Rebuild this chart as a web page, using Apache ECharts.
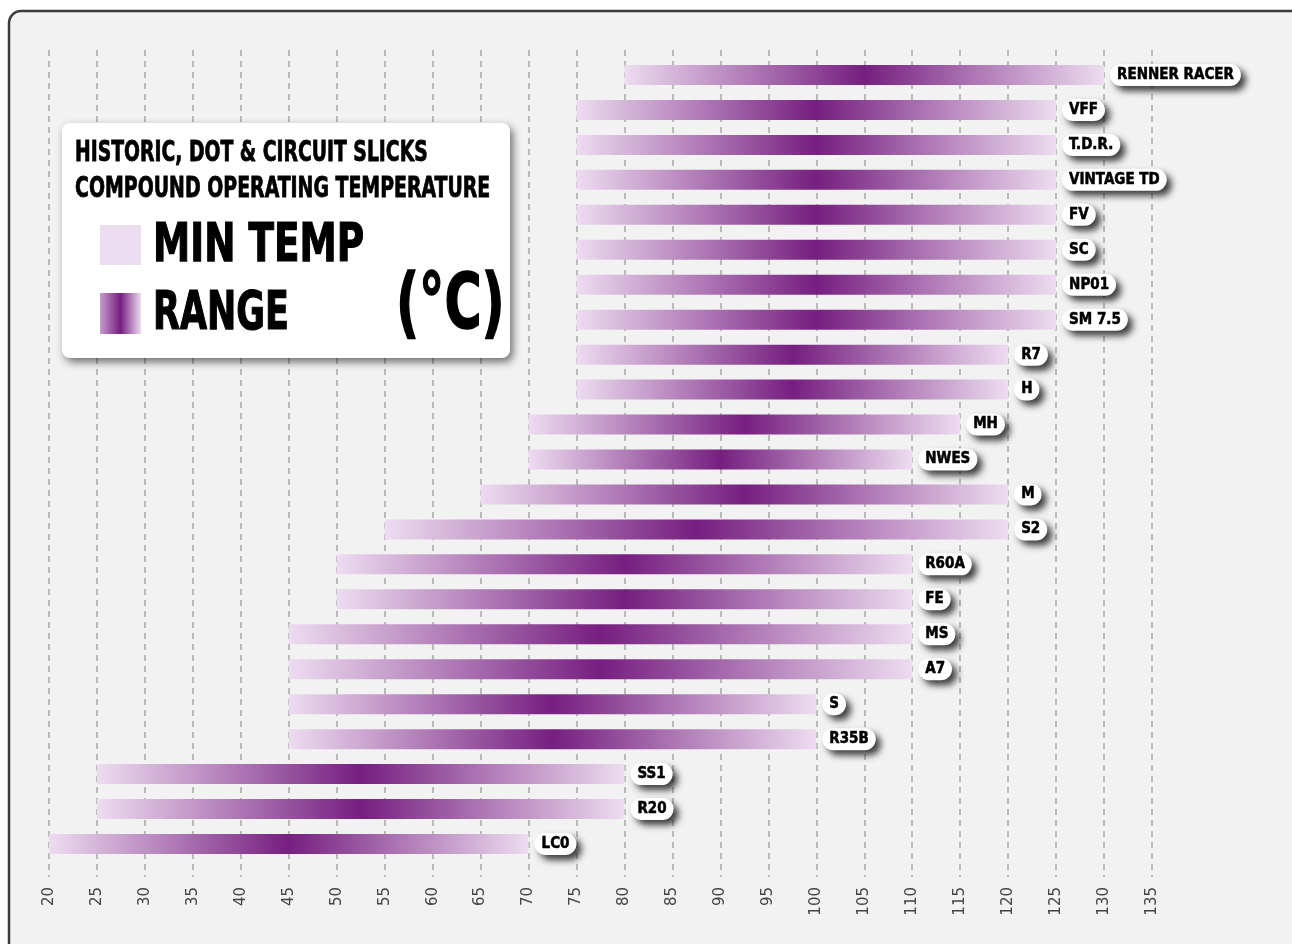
<!DOCTYPE html>
<html>
<head>
<meta charset="utf-8">
<script src="https://cdn.jsdelivr.net/npm/echarts@6/dist/echarts.min.js"></script>
<style>
html,body{margin:0;padding:0;background:#ffffff;}
#main{width:1292px;height:944px;}
</style>
</head>
<body>
<div id="main"></div>
<script>
var categories = ['RENNER RACER','VFF','T.D.R.','VINTAGE TD','FV','SC','NP01','SM 7.5','R7','H','MH','NWES','M','S2','R60A','FE','MS','A7','S','R35B','SS1','R20','LC0'];
var minTemp = [80,75,75,75,75,75,75,75,75,75,70,70,65,55,50,50,45,45,45,45,25,25,20];
var maxTemp = [130,125,125,125,125,125,125,125,120,120,115,110,120,120,110,110,110,110,100,100,80,80,70];
var axisMin = 20, axisMax = 135, axisStep = 5;

var COND = "'DejaVu Sans Condensed','Liberation Sans Narrow',sans-serif";
var rangeData = maxTemp.map(function(v,i){ return v - minTemp[i]; });

var chart = echarts.init(document.getElementById('main'));
function grad(){
  return new echarts.graphic.LinearGradient(0,0,1,0,[
    {offset:0,color:'#eddcf0'},
    {offset:0.5,color:'#761f80'},
    {offset:1,color:'#eddcf0'}
  ]);
}
var Z = 100;
function heavy(txt, font, w){
  return {text:txt,fill:'#000',font:font,stroke:'#000',lineWidth:w};
}
var option = {
  animation:false,
  backgroundColor:'#ffffff',
  grid:[
    {left:49,right:140,top:50,bottom:67},
    {left:49,right:140,top:57.5,bottom:82.5}
  ],
  xAxis:[
    {gridIndex:0,type:'value',min:axisMin,max:axisMax,interval:axisStep,
      axisLine:{show:false},axisTick:{show:false},
      axisLabel:{rotate:90,color:'#444',fontSize:15,margin:10,fontFamily:'DejaVu Sans'},
      splitLine:{show:true,lineStyle:{color:'#a8a8a8',width:1.5,type:[6,5]}}},
    {gridIndex:1,type:'value',min:axisMin,max:axisMax,interval:axisStep,show:false,
      splitLine:{show:false}}
  ],
  yAxis:[
    {gridIndex:0,type:'value',min:0,max:1,show:false,splitLine:{show:false}},
    {gridIndex:1,type:'category',inverse:true,data:categories,show:false}
  ],
  graphic:[
    {type:'rect',z:-10,silent:true,shape:{x:9,y:11,width:1400,height:1000,r:12},
      style:{fill:'#f2f2f2',stroke:'#3a3a3a',lineWidth:2.5}},
    {type:'rect',z:Z,silent:true,shape:{x:62,y:123,width:448,height:235,r:8},
      style:{fill:'#ffffff',shadowBlur:8,shadowOffsetX:3,shadowOffsetY:4,shadowColor:'rgba(0,0,0,0.55)'}},
    {type:'text',z:Z+1,x:75,y:139,scaleX:0.72,style:heavy('HISTORIC, DOT & CIRCUIT SLICKS','bold 29px '+COND,0.8)},
    {type:'text',z:Z+1,x:75,y:175,scaleX:0.725,style:heavy('COMPOUND OPERATING TEMPERATURE','bold 29px '+COND,0.8)},
    {type:'rect',z:Z+1,shape:{x:100,y:225,width:41,height:40},style:{fill:'#ecdcef'}},
    {type:'rect',z:Z+1,shape:{x:100,y:293,width:41,height:41},style:{fill:new echarts.graphic.LinearGradient(0,0,1,0,[
        {offset:0,color:'#c79bcd'},{offset:0.5,color:'#761f80'},{offset:1,color:'#eddcf0'}])}},
    {type:'text',z:Z+1,x:153,y:220,scaleX:0.77,style:heavy('MIN TEMP','bold 54px '+COND,1.2)},
    {type:'text',z:Z+1,x:153,y:288,scaleX:0.72,style:heavy('RANGE','bold 54px '+COND,1.2)},
    {type:'text',z:Z+1,x:396,y:270,scaleX:0.74,style:heavy('(°C)','bold 76px '+COND,1.5)}
  ],
  series:[
    {type:'bar',name:'base',xAxisIndex:1,yAxisIndex:1,stack:'t',silent:true,
      barWidth:20,itemStyle:{color:'rgba(0,0,0,0)'},data:minTemp},
    {type:'bar',name:'range',xAxisIndex:1,yAxisIndex:1,stack:'t',barWidth:20,
      itemStyle:{color:grad()},
      data:rangeData,
      label:{show:true,position:'right',distance:6,formatter:'{b}',
        color:'#000',fontFamily:COND,fontWeight:'bold',fontSize:15,
        textBorderColor:'#000',textBorderWidth:0.5,
        backgroundColor:'#ffffff',borderRadius:11,padding:[4,7,3,7],
        shadowBlur:7,shadowOffsetX:5,shadowOffsetY:5,shadowColor:'rgba(0,0,0,0.75)'}}
  ]
};
chart.setOption(option);
</script>
</body>
</html>
